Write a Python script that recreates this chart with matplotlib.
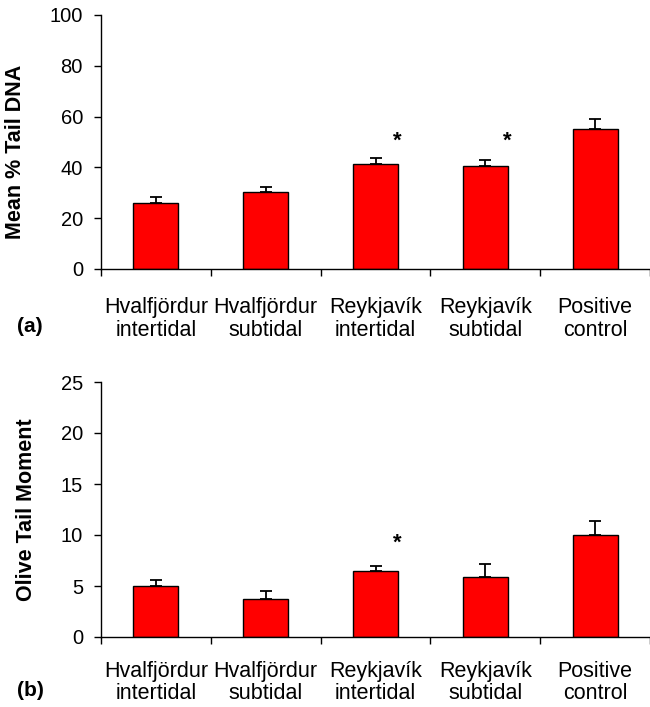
import matplotlib
matplotlib.use("Agg")
import matplotlib.pyplot as plt
import numpy as np

plt.rcParams['font.family'] = ['Liberation Sans', 'DejaVu Sans']

categories = ["Hvalfjördur\nintertidal", "Hvalfjördur\nsubtidal", "Reykjavík\nintertidal",
              "Reykjavík\nsubtidal", "Positive\ncontrol"]

tail_dna = [25.9, 30.5, 41.3, 40.7, 55.2]
tail_dna_err = [2.6, 1.7, 2.5, 2.4, 3.8]
tail_dna_sig = [False, False, True, True, False]
tail_dna_star_y = 50.3

olive = [5.0, 3.77, 6.49, 5.91, 10.0]
olive_err = [0.58, 0.77, 0.46, 1.2, 1.33]
olive_sig = [False, False, True, False, False]
olive_star_y = 9.15

fig = plt.figure(figsize=(6.5, 7.07), dpi=100)
ax1 = fig.add_axes([101/650, (707-269)/707, 549/650, 254/707])
ax2 = fig.add_axes([101/650, (707-637)/707, 549/650, 255/707])

def draw(ax, vals, errs, sig, star_y, ylim, yticks, ylabel, panel, label_x, label_y,
         panel_y, xpad, lsp):
    x = np.arange(len(vals))
    ax.bar(x, vals, width=0.41, color='#ff0000', edgecolor='black', linewidth=1.0, zorder=2)
    ax.errorbar(x, vals, yerr=[np.zeros(len(vals)), errs], fmt='none', ecolor='black',
                elinewidth=1.3, capsize=4.5, capthick=1.3, zorder=3)
    for i, s in enumerate(sig):
        if s:
            ax.text(i + 0.2, star_y, "*", ha='center', va='center', fontsize=16,
                    fontweight='bold')
    ax.set_xlim(-0.5, len(vals) - 0.5)
    ax.set_ylim(*ylim)
    ax.set_yticks(yticks)
    ax.set_yticklabels([str(t) for t in yticks])
    ax.set_xticks(x)
    ax.set_xticklabels(categories, fontsize=15.5, linespacing=lsp)
    ax.tick_params(axis='x', which='major', length=0, pad=xpad)
    ax.set_xticks(np.arange(len(vals) + 1) - 0.5, minor=True)
    ax.tick_params(axis='x', which='minor', length=5, width=1.0, direction='out')
    ax.tick_params(axis='y', length=5, width=1.0, direction='out', labelsize=14.5, pad=8)
    for sp in ['top', 'right']:
        ax.spines[sp].set_visible(False)
    for sp in ['left', 'bottom']:
        ax.spines[sp].set_linewidth(1.0)
    ax.set_ylabel(ylabel, fontsize=15.5, fontweight='bold')
    ax.yaxis.set_label_coords(label_x, label_y)
    fig.text(17/650, 1 - panel_y/707, panel, fontsize=15, fontweight='bold',
             ha='left', va='center')

draw(ax1, tail_dna, tail_dna_err, tail_dna_sig, tail_dna_star_y, (0, 100),
     [0, 20, 40, 60, 80, 100], "Mean % Tail DNA", "(a)", (26-101)/549, 0.463, 327, 20, 1.13)
draw(ax2, olive, olive_err, olive_sig, olive_star_y, (0, 25),
     [0, 5, 10, 15, 20, 25], "Olive Tail Moment", "(b)", (37-101)/549, 0.5, 690, 17, 1.08)

fig.savefig("out.png", dpi=100)
